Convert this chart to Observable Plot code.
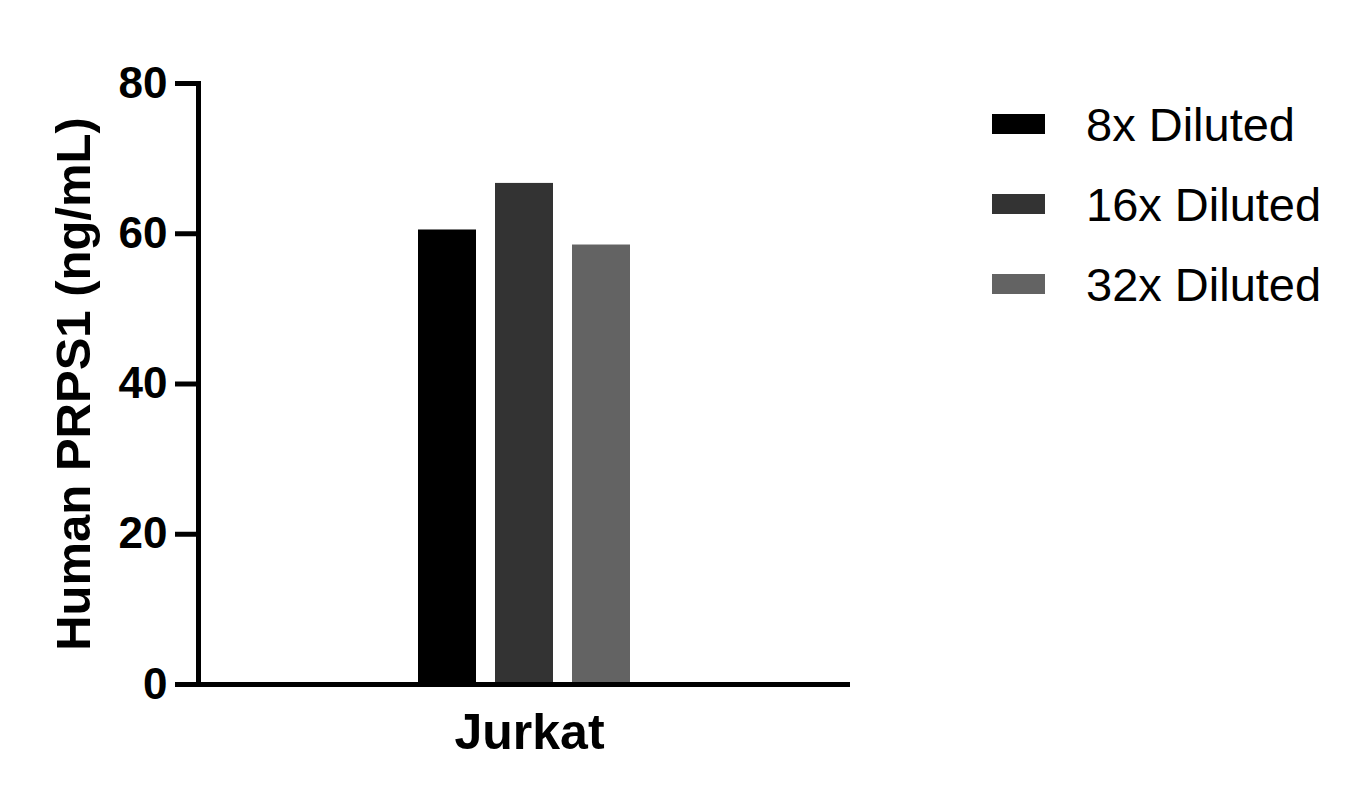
<!DOCTYPE html>
<html>
<head>
<meta charset="utf-8">
<script src="https://cdn.jsdelivr.net/npm/d3@7"></script>
<script src="https://cdn.jsdelivr.net/npm/@observablehq/plot@0.6"></script>
<style>
  html, body { margin: 0; padding: 0; background: #ffffff; }
  #wrap { position: relative; width: 1368px; height: 804px; font-family: "Liberation Sans", Arial, sans-serif; }
  #legend { position: absolute; left: 992px; top: 84px; }
  .row { display: flex; align-items: center; height: 80px; }
  .sw { width: 53px; height: 20px; margin-right: 41px; }
  .lab { font-size: 47px; color: #000; white-space: nowrap; }
</style>
</head>
<body>
<div id="wrap">
  <div id="chart"></div>
  <div id="legend"></div>
</div>
<script>
const categories = ["Jurkat"];
const series = ["8x Diluted", "16x Diluted", "32x Diluted"];
const values = [60.5, 66.7, 58.5];
const colors = ["#000000", "#333333", "#636363"];
const yTicks = [0, 20, 40, 60, 80];
const yLabel = "Human PRPS1 (ng/mL)";

const data = series.map((s, i) => ({ category: categories[0], series: s, value: values[i] }));

const chart = Plot.plot({
  width: 1368,
  height: 804,
  marginLeft: 198,
  marginRight: 518,
  marginTop: 83,
  marginBottom: 120,
  style: { fontFamily: "'Liberation Sans', Arial, sans-serif", background: "white", color: "black" },
  fx: { domain: categories, padding: 0, label: null },
  x: { domain: series, paddingInner: 0.247, paddingOuter: 2.857, axis: null },
  y: { domain: [0, 80] },
  color: { domain: series, range: colors },
  marks: [
    Plot.barY(data, { fx: "category", x: "series", y: "value", fill: "series" }),
    Plot.axisY({ ticks: yTicks, tickSize: 23, strokeWidth: 5, fontSize: 44, fontWeight: "bold", tickPadding: 8, label: null }),
    Plot.axisFx({ anchor: "bottom", tickSize: 0, tickPadding: 29, fontSize: 50, fontWeight: "bold", dx: 5, label: null }),
    Plot.frame({ anchor: "left", stroke: "black", strokeWidth: 5 }),
    Plot.ruleY([0], { stroke: "black", strokeWidth: 5 }),
    Plot.text([yLabel], { text: d => d, frameAnchor: "left", dx: -124, rotate: -90, fontSize: 49, fontWeight: "bold", textAnchor: "middle", lineAnchor: "middle", fill: "black" })
  ]
});
document.getElementById("chart").appendChild(chart);

const legend = document.getElementById("legend");
series.forEach((s, i) => {
  const row = document.createElement("div");
  row.className = "row";
  const sw = document.createElement("div");
  sw.className = "sw";
  sw.style.background = colors[i];
  const lab = document.createElement("div");
  lab.className = "lab";
  lab.textContent = s;
  row.appendChild(sw);
  row.appendChild(lab);
  legend.appendChild(row);
});
</script>
</body>
</html>
